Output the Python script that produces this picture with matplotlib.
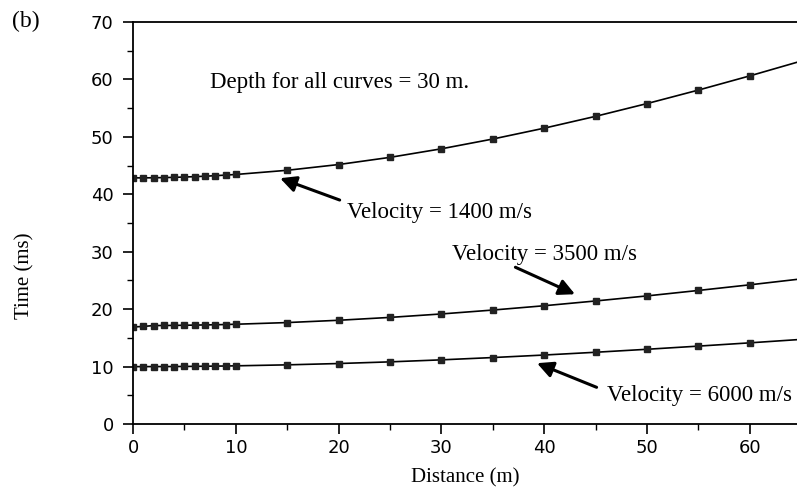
# Travel time curves for a reflected wave, three velocities, depth 30 m
import matplotlib.pyplot as plt
from matplotlib.ticker import MultipleLocator

# Data
# ======================================================
distance = [0, 1, 2, 3, 4, 5, 6, 7, 8, 9, 10,
            15, 20, 25, 30, 35, 40, 45, 50, 55, 60, 65]

time_1400 = [42.86, 42.86, 42.88, 42.91, 42.95, 43.01, 43.07, 43.15, 43.24, 43.34, 43.45,
             44.18, 45.18, 46.43, 47.92, 49.62, 51.51, 53.57, 55.79, 58.14, 60.61, 63.19]
time_3500 = [16.90, 17.00, 17.15, 17.16, 17.18, 17.20, 17.23, 17.26, 17.29, 17.33, 17.38,
             17.67, 18.07, 18.57, 19.17, 19.85, 20.60, 21.43, 22.31, 23.26, 24.24, 25.27]
time_6000 = [10.00, 10.00, 10.01, 10.01, 10.02, 10.03, 10.05, 10.07, 10.09, 10.11, 10.14,
             10.31, 10.54, 10.83, 11.18, 11.58, 12.02, 12.50, 13.02, 13.57, 14.14, 14.74]

SERIF = "Liberation Serif"
SANS = "DejaVu Sans"

fig = plt.figure(figsize=(7.97, 4.88), dpi=100)
ax = fig.add_axes([0.167, 0.131, 0.833, 0.824])

for t in (time_1400, time_3500, time_6000):
    ax.plot(distance, t, color='black', lw=1.2, marker='s', markersize=4.5,
            markerfacecolor='#222222', markeredgecolor='#222222')

ax.set_xlim(0, 64.6)
ax.set_ylim(0, 70)
ax.xaxis.set_major_locator(MultipleLocator(10))
ax.xaxis.set_minor_locator(MultipleLocator(5))
ax.yaxis.set_major_locator(MultipleLocator(10))
ax.yaxis.set_minor_locator(MultipleLocator(5))
ax.tick_params(which='major', length=7, width=1.2, labelsize=13, direction='out')
ax.tick_params(axis='y', which='major', pad=7)
ax.tick_params(which='minor', length=4, width=1.0, direction='out')
for lab in ax.get_xticklabels() + ax.get_yticklabels():
    lab.set_family(SANS)
ax.spines['right'].set_visible(False)
for s in ('left', 'bottom', 'top'):
    ax.spines[s].set_linewidth(1.3)

ax.set_xlabel("Distance (m)", fontsize=15, family=SERIF, labelpad=8)
ax.set_ylabel("Time (ms)", fontsize=15, family=SERIF)
ax.yaxis.set_label_coords(-0.148, 0.37)

ax.text(7.5, 59.5, "Depth for all curves = 30 m.", fontsize=16.5, family=SERIF, va='center')

arrow = dict(arrowstyle='-|>', color='black', lw=2.2, mutation_scale=24,
             shrinkA=0, shrinkB=0)
ax.annotate("", xy=(14.3, 42.8), xytext=(20.1, 39.0), arrowprops=arrow)
ax.text(20.8, 36.9, "Velocity = 1400 m/s", fontsize=16.5, family=SERIF, va='center')

ax.annotate("", xy=(43.0, 22.6), xytext=(37.2, 27.3), arrowprops=arrow)
ax.text(31.0, 29.6, "Velocity = 3500 m/s", fontsize=16.5, family=SERIF, va='center')

ax.annotate("", xy=(39.3, 10.6), xytext=(45.1, 6.4), arrowprops=arrow)
ax.text(46.1, 5.0, "Velocity = 6000 m/s", fontsize=16.5, family=SERIF, va='center')

fig.text(12 / 797, 1 - 21 / 488, "(b)", fontsize=17, family=SERIF, va='center')

fig.savefig("out.png", dpi=100)
plt.close()
